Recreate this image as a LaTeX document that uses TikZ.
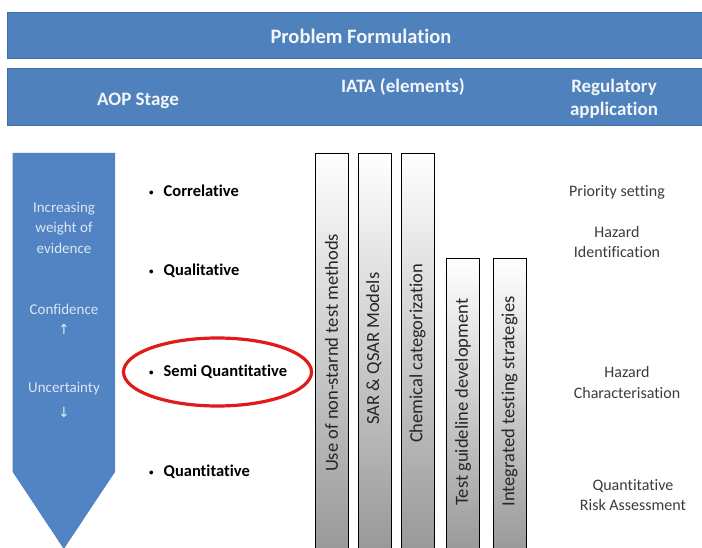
\documentclass[tikz,border=0pt]{standalone}
\usepackage{fontspec}
\setmainfont{Carlito}[Ligatures=NoCommon]
\newfontfamily\symfont{DejaVu Sans}
\definecolor{bannerblue}{HTML}{4F81BD}
\definecolor{bannerline}{HTML}{3F6FA8}
\definecolor{hdrtext}{HTML}{F2F6FB}
\definecolor{arrowblue}{HTML}{5283C3}
\definecolor{arrowtext}{HTML}{DCE7F4}
\definecolor{barg}{HTML}{959595}
\definecolor{bartext}{HTML}{262626}
\definecolor{righttext}{HTML}{3C3C3C}
\definecolor{ringred}{HTML}{E01B1B}
\newcommand{\smallbul}{\raisebox{1.5pt}{\fontsize{9}{9}\selectfont\textbullet}}
\tikzset{
  banner/.style={fill=bannerblue, draw=bannerline, line width=0.8pt, inner sep=0pt, anchor=north west},
  hdr/.style={text=hdrtext, font=\bfseries\fontsize{19}{23}\selectfont, align=center, inner sep=0pt},
  arrtxt/.style={text=arrowtext, font=\fontsize{15}{20.5}\selectfont, align=center, inner sep=0pt},
  arrglyph/.style={text=arrowtext, font=\symfont\fontsize{14}{14}\selectfont, inner sep=0pt},
  stage/.style={text=black, font=\bfseries\fontsize{16.5}{19}\selectfont, anchor=west, inner sep=0pt},
  iatabar/.style={draw=black, line width=1.3pt, top color=white, bottom color=barg, inner sep=0pt, anchor=north west, minimum width=33pt},
  bartxt/.style={text=bartext, font=\fontsize{18.5}{22}\selectfont, rotate=90, inner sep=0pt},
  regtxt/.style={text=righttext, font=\fontsize{16}{20.5}\selectfont, align=center, inner sep=0pt},
  ring/.style={draw=ringred, line width=3.2pt}
}
\begin{document}
\begin{tikzpicture}[x=1pt,y=-1pt]
\useasboundingbox (0,0) rectangle (702,548);
\clip (0,0) rectangle (702,548);
\fill[white] (0,0) rectangle (702,548);
% banners
\node[banner, minimum width=700pt, minimum height=46pt] (pfbox) at (7,12) {};
\node[hdr, font=\bfseries\fontsize{20.5}{24}\selectfont] (pf) at (361,36) {Problem Formulation};
\node[banner, minimum width=700pt, minimum height=57pt] (hbox) at (7,68) {};
\node[hdr] (aop) at (138,101) {AOP Stage};
\node[hdr] (iata) at (403,87) {IATA (elements)};
\node[hdr] (reg) at (614,98.5) {Regulatory\\application};
% big arrow
\fill[arrowblue] (12.7,153) -- (115,153) -- (115,472) -- (63.8,549) -- (12.7,472) -- cycle;
\node[arrtxt] (woe) at (64,227.5) {Increasing\\weight of\\evidence};
\node[arrtxt] (conf) at (64,309) {Confidence};
\node[arrglyph] (up) at (64,329) {↑};
\node[arrtxt] (unc) at (64,389) {Uncertainty};
\node[arrglyph] (down) at (64,412) {↓};
% AOP stages
\node[stage] (s1) at (149,191) {\smallbul\hspace{10pt}Correlative};
\node[stage] (s2) at (149,271) {\smallbul\hspace{10pt}Qualitative};
\node[stage] (s3) at (149,372) {\smallbul\hspace{10pt}Semi Quantitative};
\node[stage] (s4) at (149,472) {\smallbul\hspace{10pt}Quantitative};
\draw[ring] (217.5,372) ellipse [x radius=94, y radius=34];
% IATA bars
\node[iatabar, minimum height=410pt] (b1) at (315,153) {};
\node[iatabar, minimum height=410pt] (b2) at (358,153) {};
\node[iatabar, minimum height=410pt] (b3) at (401,153) {};
\node[iatabar, minimum height=305pt] (b4) at (446,258) {};
\node[iatabar, minimum height=305pt] (b5) at (493,258) {};
\node[bartxt] (t1) at (331.5,353) {Use of non-starnd test methods};
\node[bartxt] (t2) at (374,348.5) {SAR \& QSAR Models};
\node[bartxt] (t3) at (417.5,353.5) {Chemical categorization};
\node[bartxt] (t4) at (463,402) {Test guideline development};
\node[bartxt] (t5) at (509.5,401.5) {Integrated testing strategies};
% regulatory application
\node[regtxt] (r1) at (617,192) {Priority setting};
\node[regtxt] (r2) at (617,242) {Hazard\\Identification};
\node[regtxt] (r3) at (627,382.5) {Hazard\\Characterisation};
\node[regtxt] (r4) at (633,495) {Quantitative\\Risk Assessment};
\end{tikzpicture}
\end{document}
